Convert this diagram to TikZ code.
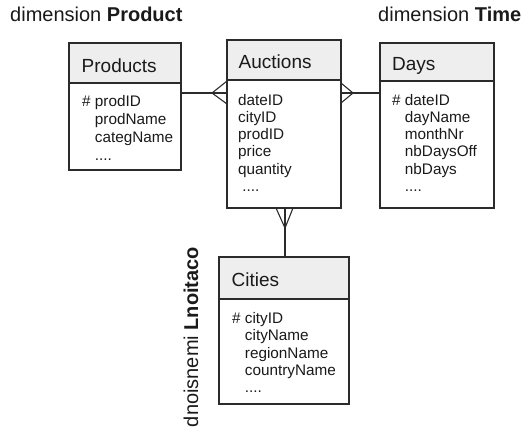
\documentclass[tikz,border=0pt]{standalone}
\usepackage{fontspec}
\setmainfont{Liberation Sans}
\usetikzlibrary{calc}
\definecolor{linec}{HTML}{2B2B2B}
\definecolor{hdrfill}{HTML}{EEEEEE}
\definecolor{txtc}{HTML}{1A1A1A}
\newcommand{\hdrfont}{\fontsize{19}{22}\selectfont}
\newcommand{\bodyfont}{\fontsize{15.3}{17.2}\selectfont}
\newcommand{\bodyfontwide}{\fontsize{15.3}{17.8}\selectfont}
\newcommand{\labfont}{\fontsize{20}{24}\selectfont}
\newcommand{\ind}{\hphantom{\# }}
\begin{document}
\begin{tikzpicture}[x=1pt,y=-1pt,
  box/.style={draw=linec, line width=1.1pt, inner sep=0pt, outer sep=0pt, anchor=north west},
  hdr/.style={box, fill=hdrfill},
  bod/.style={box, fill=white},
  htext/.style={anchor=base west, inner sep=0pt, font=\hdrfont, text=txtc},
  btext/.style={anchor=north west, inner sep=0pt, align=left, font=\bodyfont, text=txtc},
  lab/.style={inner sep=0pt, font=\labfont, text=txtc},
  conn/.style={draw=linec, line width=1.1pt}]
\useasboundingbox (0,0) rectangle (526,431);

% labels
\node[lab, anchor=base west] (labP) at (10,21) {dimension \textbf{Product}};
\node[lab, anchor=base west] (labT) at (378,21) {dimension \textbf{Time}};
\node[lab, rotate=90] (labL) at (191,337) {dnoisnemi \textbf{Lnoitaco}};

% Products
\node[hdr, minimum width=112pt, minimum height=40pt] (prodH) at (69,43) {};
\node[bod, minimum width=112pt, minimum height=87pt] (prodB) at (69,83) {};
\node[htext] (prodT) at (81.5,72) {Products};
\node[btext, font=\bodyfontwide] (prodL) at (82,95.5) {\# prodID\\ \ind prodName\\ \ind categName\\ \ind ....};

% Auctions
\node[hdr, minimum width=114pt, minimum height=40pt] (aucH) at (227,40) {};
\node[bod, minimum width=114pt, minimum height=128pt] (aucB) at (227,80) {};
\node[htext] (aucT) at (238.5,68) {Auctions};
\node[btext] (aucL) at (238,94) {dateID\\ cityID\\ prodID\\ price\\ quantity\\ \ ....};

% Days
\node[hdr, minimum width=114pt, minimum height=38pt] (dayH) at (380,43) {};
\node[bod, minimum width=114pt, minimum height=127pt] (dayB) at (380,81) {};
\node[htext] (dayT) at (392,70) {Days};
\node[btext] (dayL) at (392,94) {\# dateID\\ \ind dayName\\ \ind monthNr\\ \ind nbDaysOff\\ \ind nbDays\\ \ind ....};

% Cities
\node[hdr, minimum width=130pt, minimum height=42pt] (citH) at (219,257) {};
\node[bod, minimum width=130pt, minimum height=105pt] (citB) at (219,299) {};
\node[htext] (citT) at (231.5,286) {Cities};
\node[btext] (citL) at (232,312.5) {\# cityID\\ \ind cityName\\ \ind regionName\\ \ind countryName\\ \ind ....};

% connectors
\coordinate (pa) at (212,93);
\coordinate (ad) at (353,93);
\coordinate (ac) at (285,228);
\draw[conn] (pa -| prodB.east) -- (pa -| aucB.west);
\draw[conn] ($(pa -| aucB.west)+(0,-12)$) -- (pa) -- ($(pa -| aucB.west)+(0,11)$);
\draw[conn] (ad -| aucB.east) -- (ad -| dayB.west);
\draw[conn] ($(ad -| aucB.east)+(0,-10)$) -- (ad) -- ($(ad -| aucB.east)+(0,10)$);
\draw[conn] (ac |- aucB.south) -- (ac |- citH.north);
\draw[conn] ($(ac |- aucB.south)+(-9,0)$) -- (ac) -- ($(ac |- aucB.south)+(8,0)$);
\end{tikzpicture}
\end{document}
